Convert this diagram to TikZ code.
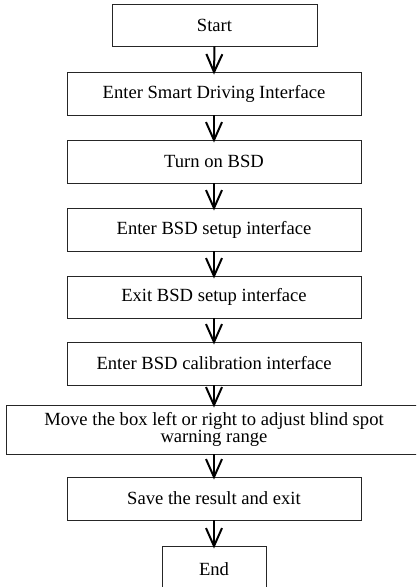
\documentclass[tikz,border=0pt]{standalone}
\usepackage{fontspec}
\setmainfont{Liberation Serif}
\usetikzlibrary{arrows.meta}
\begin{document}
\begin{tikzpicture}[x=1pt,y=-1pt,
  flowbox/.style={draw=black!85,line width=0.9pt,rectangle,inner sep=0pt,
    minimum width=294pt,minimum height=43pt,align=center,
    font=\fontsize{18.6}{17}\selectfont},
  flowarrow/.style={line width=2pt,-{Straight Barb[length=18pt,width=16pt,line width=2pt]}}]
\useasboundingbox (0,0) rectangle (416,587);
\clip (0,0) rectangle (416,587);
\node[flowbox,minimum width=205pt,minimum height=42pt] (start) at (214.5,25) {Start};
\node[flowbox] (n1) at (214,93.5) {Enter Smart Driving Interface};
\node[flowbox] (n2) at (214,161.5) {Turn on BSD};
\node[flowbox] (n3) at (214,229.5) {Enter BSD setup interface};
\node[flowbox,minimum height=42pt] (n4) at (214,297) {Exit BSD setup interface};
\node[flowbox] (n5) at (214,363.5) {Enter BSD calibration interface};
\node[flowbox,minimum width=416pt,minimum height=49pt] (n6) at (214,429.5) {Move the box left or right to adjust blind spot\\warning range};
\node[flowbox] (n7) at (214,498.5) {Save the result and exit};
\node[flowbox,minimum width=104pt,minimum height=46pt] (end) at (214,569) {End};
\draw[flowarrow] (start.south) -- ([yshift=-3pt]n1.north);
\draw[flowarrow] (n1.south) -- ([yshift=-3pt]n2.north);
\draw[flowarrow] (n2.south) -- ([yshift=-3pt]n3.north);
\draw[flowarrow] (n3.south) -- ([yshift=-3pt]n4.north);
\draw[flowarrow] (n4.south) -- ([yshift=-3pt]n5.north);
\draw[flowarrow] (n5.south) -- ([yshift=-3pt]n6.north);
\draw[flowarrow] (n6.south) -- ([yshift=-3pt]n7.north);
\draw[flowarrow] (n7.south) -- ([yshift=-3pt]end.north);
\end{tikzpicture}
\end{document}
